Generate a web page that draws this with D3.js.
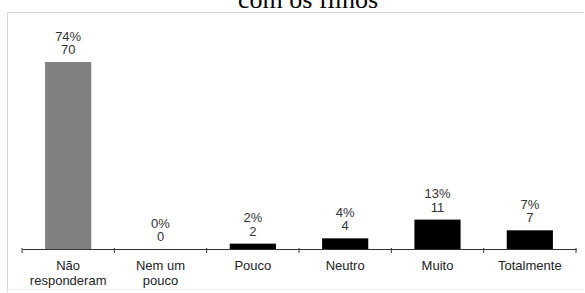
<!DOCTYPE html>
<html>
<head>
<meta charset="utf-8">
<script src="https://cdn.jsdelivr.net/npm/d3@7"></script>
<style>
  body{margin:0;background:#fff;}
  svg{display:block;}
</style>
</head>
<body>
<div id="chart"></div>
<script>
// dados
var categories = ["Não responderam", "Nem um pouco", "Pouco", "Neutro", "Muito", "Totalmente"];
var categoryLines = [["Não","responderam"], ["Nem um","pouco"], ["Pouco"], ["Neutro"], ["Muito"], ["Totalmente"]];
var values = [70, 0, 2, 4, 11, 7];
var percents = ["74%", "0%", "2%", "4%", "13%", "7%"];
var barColors = ["#808080", "#000", "#000", "#000", "#000", "#000"];

var W = 585, H = 293;
var svg = d3.select("#chart").append("svg").attr("width", W).attr("height", H);

// moldura (so em cima, esquerda e um fio embaixo)
svg.append("path")
  .attr("d", "M584,12.5H7.5V291.5")
  .attr("fill", "none").attr("stroke", "#d6d6d6");
svg.append("line")
  .attr("x1", 7.5).attr("x2", 584).attr("y1", 289.5).attr("y2", 289.5)
  .attr("stroke", "#f0f0f0");

// titulo (cortado em cima)
svg.append("text")
  .attr("x", 238).attr("y", 8)
  .style("font-family", "'Liberation Serif', 'Times New Roman', serif")
  .style("font-size", "26px")
  .attr("fill", "#000")
  .text("com os filhos");

var x = d3.scaleBand().domain(categories).range([22, 576]).paddingInner(0.5).paddingOuter(0.25);
var y = d3.scaleLinear().domain([0, 70]).range([249, 62]);

svg.selectAll("rect.bar").data(values).enter().append("rect")
  .attr("class", "bar")
  .attr("x", function(d, i){return x(categories[i])})
  .attr("y", function(d){return y(d)})
  .attr("width", x.bandwidth())
  .attr("height", function(d){return y(0) - y(d)})
  .attr("fill", function(d, i){return barColors[i]});

// eixo
var axis = svg.append("g").attr("transform", "translate(0," + y(0) + ")")
  .call(d3.axisBottom(x).tickSize(0).tickFormat(""));
axis.select(".domain").attr("stroke", "#333");
var bounds = d3.range(categories.length + 1).map(function(i){return 22 + i * x.step()});
axis.selectAll("line.sep").data(bounds).enter().append("line")
  .attr("class", "sep")
  .attr("x1", function(d){return d}).attr("x2", function(d){return d})
  .attr("y1", -1).attr("y2", 4)
  .attr("stroke", "#333");

var font = "Arial, 'Liberation Sans', sans-serif";

// rotulos das barras
var lbl = svg.selectAll("g.lbl").data(values).enter().append("g").attr("class", "lbl");
lbl.append("text")
  .attr("x", function(d, i){return x(categories[i]) + x.bandwidth()/2})
  .attr("y", function(d){return y(d) - 21.5})
  .text(function(d, i){return percents[i]});
lbl.append("text")
  .attr("x", function(d, i){return x(categories[i]) + x.bandwidth()/2})
  .attr("y", function(d){return y(d) - 8})
  .text(function(d){return d});
lbl.selectAll("text")
  .attr("text-anchor", "middle")
  .style("font-family", font).style("font-size", "13px")
  .attr("fill", "#333");

// categorias
var cat = svg.selectAll("text.cat").data(categoryLines).enter().append("text")
  .attr("class", "cat")
  .attr("text-anchor", "middle")
  .style("font-family", font).style("font-size", "13px")
  .attr("fill", "#222");
cat.selectAll("tspan").data(function(d, i){return d.map(function(s){return {s: s, i: i}})})
  .enter().append("tspan")
  .attr("x", function(d){return x(categories[d.i]) + x.bandwidth()/2})
  .attr("y", function(d, j){return 270 + j * 15})
  .text(function(d){return d.s});
</script>
</body>
</html>
